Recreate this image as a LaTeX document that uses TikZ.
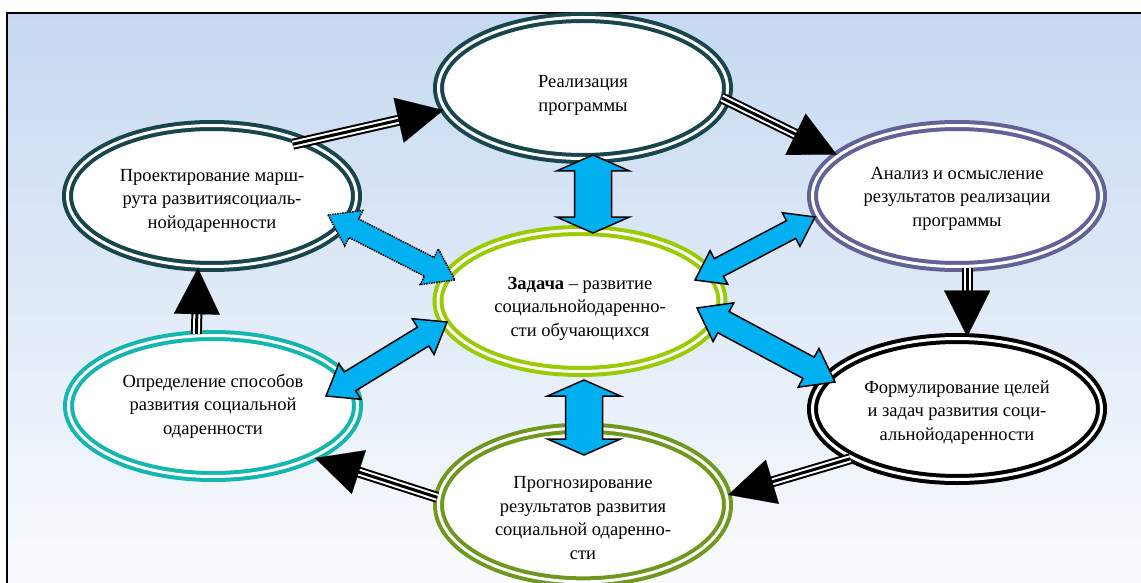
\documentclass[tikz,border=0pt]{standalone}
\usepackage{fontspec}
\setmainfont{Liberation Serif}
\usetikzlibrary{calc,shapes.geometric,arrows.meta}
\definecolor{darkslate}{RGB}{24,70,76}
\definecolor{slateblue}{RGB}{98,98,152}
\definecolor{limegreen}{RGB}{153,204,0}
\definecolor{tealring}{RGB}{20,182,176}
\definecolor{olivering}{RGB}{110,152,30}
\definecolor{arrowblue}{RGB}{0,176,240}
\definecolor{bgtop}{RGB}{198,217,241}
\definecolor{bgbottom}{RGB}{251,252,254}
\tikzset{
stage/.style={
  ellipse, draw=#1, line width=4pt, double=white, double distance=3pt,
  fill=white, minimum width=289pt, minimum height=141pt, inner sep=0pt,
  align=center, font=\fontsize{18.5}{23.5}\selectfont
},
tri/.style={
  draw=black, line width=11pt, shorten >=40pt,
  postaction={draw=white, line width=7pt, shorten >=40pt},
  postaction={draw=black, line width=3pt, shorten >=40pt},
  postaction={draw=black, line width=0.1pt, shorten >=0pt,
    -{Triangle[length=46pt,width=46pt]}}
},
duplex/.style={fill=arrowblue, draw=black, line width=1.5pt, line join=miter},
}
% lowers the text a little inside its ellipse
\newcommand\lift[1][27pt]{\rule{0pt}{#1}}
% #2, #3 tips; #4 head length, #5 half head, #6 half shaft
\newcommand\twoway[6][]{%
  \path let \p1=($#3-#2$) in \pgfextra{%
    \pgfmathsetmacro\twtmpa{veclen(\x1,\y1)}\global\let\twlen\twtmpa
    \pgfmathsetmacro\twtmpb{atan2(\y1,\x1)}\global\let\twang\twtmpb};
  \draw[duplex,#1,shift={#2},rotate=\twang]
    (0,0) -- (#4,#5) -- (#4,#6) -- ({\twlen-#4},#6) -- ({\twlen-#4},#5)
    -- (\twlen,0) -- ({\twlen-#4},-#5) -- ({\twlen-#4},-#6) -- (#4,-#6)
    -- (#4,-#5) -- cycle;
}

\begin{document}
\begin{tikzpicture}[x=1pt,y=-1pt]
  \clip (0,0) rectangle (1141,583);
  \useasboundingbox (0,0) rectangle (1141,583);
  \fill[top color=bgtop, bottom color=bgbottom] (7,13) rectangle (1160,600);
  \draw[line width=1.2pt] (7,600) |- (1160,13);

  % stages
  \node[stage=darkslate] (real) at (583,88) {\lift Реализация\\программы};
  \node[stage=darkslate] (plan) at (212,196) {\lift[21pt]Проектирование марш-\\рута развитиясоциаль-\\нойодаренности};
  \node[stage=slateblue] (anal) at (957,196) {\lift[17pt]Анализ и осмысление\\результатов реализации\\программы};
  \node[stage=limegreen, minimum width=284pt] (task) at (580,301) {\lift\textbf{Задача} – развитие\\социальнойодаренно-\\сти обучающихся};
  \node[stage=tealring] (ways) at (213,406) {Определение способов\\развития социальной\\одаренности};
  \node[stage=black] (goal) at (957,409) {\lift[19pt]Формулирование целей\\и задач развития соци-\\альнойодаренности};
  \node[stage=olivering] (prog) at (583,505) {\lift[38pt]Прогнозирование\\результатов развития\\социальной одаренно-\\сти};

  % cycle
  \draw[tri, shorten <=-15pt] (plan.30) -- (real.189);
  \draw[tri, shorten <=-6pt] (real.-5) -- (anal.161);
  \draw[tri] (anal.-82) -- (goal.82);
  \draw[tri] (goal.205) -- (prog.4);
  \draw[tri] (prog.177) -- (ways.-27);
  \draw[tri] (ways.103) -- (plan.-101);

  % links to the task
  \twoway{($(real)+(10,67)$)}{($(task)+(13,-68)$)}{16}{36.5}{18.5}
  \twoway{($(task)+(4,79)$)}{($(prog)+(1,-50)$)}{16}{36.5}{18.5}
  \twoway[densely dotted]{($(plan)+(116,19)$)}{($(task)+(-125,-21)$)}{29}{20}{10.5}
  \twoway{($(task)+(115,-21)$)}{($(anal)+(-142,21)$)}{27}{19}{10}
  \twoway{($(task)+(117,7)$)}{($(goal)+(-122,-27)$)}{30}{22}{12}
  \twoway{($(ways)+(113,-10)$)}{($(task)+(-133,21)$)}{28}{21}{11}
\end{tikzpicture}
\end{document}
